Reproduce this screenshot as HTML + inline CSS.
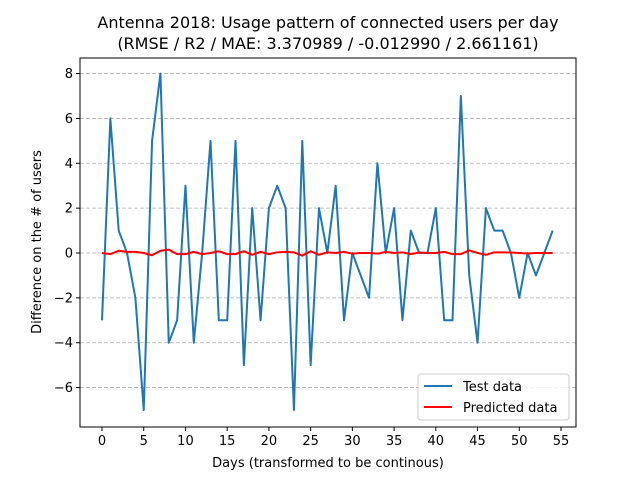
<!DOCTYPE html>
<html><head><meta charset="utf-8"><style>
body{margin:0;background:#fff;}
svg{display:block;font-family:"DejaVu Sans","Liberation Sans",sans-serif;}
</style></head><body>
<svg id="c" width="640" height="480">
<text x="328" y="28" text-anchor="middle" font-size="16">Antenna 2018: Usage pattern of connected users per day</text>
<text x="328" y="49" text-anchor="middle" font-size="16">(RMSE / R2 / MAE: 3.370989 / -0.012990 / 2.661161)</text>
<g id="grid"></g><g id="ticks"></g><g id="series"></g>
<rect x="80" y="58" width="496" height="369" fill="none" stroke="#000" stroke-width="1"/>
<text x="328" y="467" text-anchor="middle" font-size="13">Days (transformed to be continous)</text>
<text transform="translate(41,242) rotate(-90)" text-anchor="middle" font-size="13">Difference on the # of users</text>
<g>
<rect x="418" y="374" width="151" height="46" rx="3" fill="#fff" fill-opacity="0.8" stroke="#ccc"/>
<line x1="424" y1="386" x2="452" y2="386" stroke="#1f77b4" stroke-width="2"/>
<text x="463" y="391" font-size="13">Test data</text>
<line x1="424" y1="407" x2="452" y2="407" stroke="red" stroke-width="2"/>
<text x="463" y="412" font-size="13">Predicted data</text>
</g>
</svg>
<script>
const xTicks=[0,5,10,15,20,25,30,35,40,45,50,55];
const yTicks=[-6,-4,-2,0,2,4,6,8];
const testData=[-3,6,1,0,-2,-7,5,8,-4,-3,3,-4,0,5,-3,-3,5,-5,2,-3,2,3,2,-7,5,-5,2,0,3,-3,0,-1,-2,4,0,2,-3,1,0,0,2,-3,-3,7,-1,-4,2,1,1,0,-2,0,-1,0,1];
const predData=[0,-0.05,0.1,0.05,0.05,0,-0.1,0.1,0.15,-0.05,-0.05,0.05,-0.05,0,0.08,-0.05,-0.05,0.08,-0.08,0.05,-0.05,0.03,0.05,0.03,-0.12,0.08,-0.08,0.03,0,0.05,-0.03,0,0,-0.03,0.05,0,0.03,-0.05,0.02,0,0,0.05,-0.05,-0.05,0.12,0,-0.08,0.03,0.03,0.02,0,-0.02,0,0,0];
const X=v=>102+v*(561-102)/55;
const Y=v=>253-v*22.43;
const NS="http://www.w3.org/2000/svg";
function mk(t,a,p){const e=document.createElementNS(NS,t);for(const k in a)e.setAttribute(k,a[k]);p.appendChild(e);return e;}
const g=document.getElementById('grid'),tk=document.getElementById('ticks'),s=document.getElementById('series');
yTicks.forEach(v=>{
 const l=mk('line',{x1:80,x2:576,y1:Y(v),y2:Y(v),stroke:'#b0b0b0','stroke-dasharray':'4,2','stroke-width':0.8},g);
 
 
 mk('line',{x1:76,x2:80,y1:Y(v),y2:Y(v),stroke:'#000'},tk);
 const t=mk('text',{x:73,y:Y(v)+4.5,'text-anchor':'end','font-size':13},tk);t.textContent=v<0?'\u2212'+(-v):v;
 
 
});
xTicks.forEach(v=>{
 mk('line',{x1:X(v),x2:X(v),y1:427,y2:431,stroke:'#000'},tk);
 const t=mk('text',{x:X(v),y:445,'text-anchor':'middle','font-size':13},tk);t.textContent=v;
 
 
});
const p1=mk('polyline',{points:testData.map((v,i)=>X(i)+','+Y(v)).join(' '),fill:'none',stroke:'#1f77b4','stroke-width':2,'stroke-linejoin':'round'},s);


const p2=mk('polyline',{points:predData.map((v,i)=>X(i)+','+Y(v)).join(' '),fill:'none',stroke:'red','stroke-width':2,'stroke-linejoin':'round'},s);


</script>
</body></html>
